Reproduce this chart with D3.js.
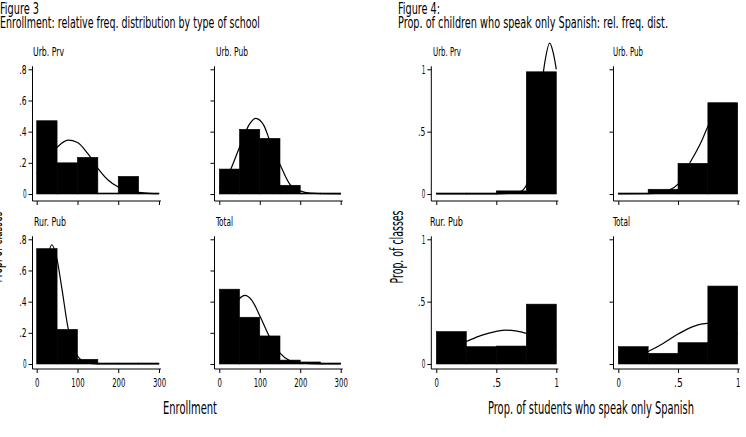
<!DOCTYPE html>
<html>
<head>
<meta charset="utf-8">
<script src="https://cdn.jsdelivr.net/npm/d3@7"></script>
<style>
  body { margin: 0; background: #fff; }
  svg text { font-family: "Liberation Sans Narrow", "Arial Narrow", "DejaVu Sans Condensed", sans-serif; fill: #000; }
</style>
</head>
<body>
<svg id="chart" width="746" height="437"></svg>
<script>
// ---- Figure 3: enrollment, bins of 50 ----
var enrollBins = [0, 50, 100, 150, 200, 250, 300];
var enrollXTicks = [0, 100, 200, 300];
var enrollYTicks = [0, 0.2, 0.4, 0.6, 0.8];
var urbPrvEnroll = [0.47, 0.20, 0.235, 0, 0.113, 0];
var urbPubEnroll = [0.16, 0.415, 0.357, 0.056, 0.006, 0.002];
var rurPubEnroll = [0.74, 0.222, 0.03, 0, 0, 0];
var totalEnroll  = [0.48, 0.30, 0.18, 0.025, 0.013, 0.002];

// overlaid normal curves
var urbPrvEnrollFit = [[0,0.13],[25,0.22],[50,0.30],[77,0.345],[100,0.33],[125,0.26],[150,0.165],[175,0.09],[200,0.045],[225,0.02],[250,0.01],[275,0.004],[300,0.002]];
var urbPubEnrollFit = [[0,0.04],[25,0.14],[50,0.30],[75,0.45],[90,0.485],[110,0.44],[125,0.34],[150,0.19],[175,0.06],[200,0.02],[225,0.005],[250,0.002],[300,0.001]];
var rurPubEnrollFit = [[2,0.28],[15,0.5],[25,0.66],[37,0.765],[50,0.67],[62,0.48],[77,0.23],[100,0.05],[125,0.006],[150,0.001],[300,0.001]];
var totalEnrollFit  = [[2,0.16],[25,0.31],[50,0.42],[63,0.44],[80,0.41],[100,0.31],[125,0.17],[150,0.07],[175,0.02],[200,0.005],[250,0.001],[300,0.001]];

// ---- Figure 4: share speaking only Spanish, bins of .25 ----
var propBins = [0, 0.25, 0.5, 0.75, 1];
var propXTicks = [0, 0.5, 1];
var propYTicks = [0, 0.5, 1];
var urbPrvSpan = [0, 0, 0.025, 0.98];
var urbPubSpan = [0.003, 0.038, 0.246, 0.732];
var rurPubSpan = [0.26, 0.139, 0.144, 0.48];
var totalSpan  = [0.139, 0.086, 0.171, 0.625];

var urbPrvSpanFit = [[0,0.001],[0.5,0.001],[0.6,0.004],[0.7,0.02],[0.75,0.07],[0.8,0.27],[0.85,0.62],[0.9,1.03],[0.945,1.21],[0.975,1.13],[1,1.0]];
var urbPubSpanFit = [[0,0.001],[0.25,0.002],[0.35,0.01],[0.42,0.03],[0.5,0.08],[0.6,0.25],[0.7,0.43],[0.754,0.55],[0.85,0.68],[0.93,0.72],[1,0.7]];
var rurPubSpanFit = [[0.01,0.09],[0.125,0.13],[0.25,0.18],[0.375,0.23],[0.5,0.262],[0.58,0.272],[0.66,0.265],[0.75,0.246],[0.875,0.2],[1,0.15]];
var totalSpanFit  = [[0.01,0.02],[0.125,0.045],[0.25,0.1],[0.375,0.165],[0.5,0.24],[0.625,0.3],[0.75,0.325],[0.875,0.3],[1,0.24]];

var svg = d3.select("#chart");

function fmtTick(d) {
    return d === 0 ? "0" : String(d).replace(/^0/, "");
}

// one small histogram panel
function drawPanel(p) {
    var g = svg.append("g");
    var x = d3.scaleLinear().domain([p.bins[0], p.bins[p.bins.length - 1]]).range(p.xRange);
    var y = d3.scaleLinear().domain([0, p.yMax]).range([p.yBase, p.yTop]);

    g.selectAll("rect").data(p.values).enter().append("rect")
        .attr("x", (d, i) => x(p.bins[i]))
        .attr("width", (d, i) => x(p.bins[i + 1]) - x(p.bins[i]))
        .attr("y", d => Math.min(y(d), p.yBase - 1))
        .attr("height", d => Math.max(p.yBase - y(d), 1))
        .attr("fill", "#000")
        .attr("stroke", "#000")
        .attr("stroke-width", 0.6);

    var line = d3.line().x(d => x(d[0])).y(d => y(d[1])).curve(d3.curveMonotoneX);
    g.append("path")
        .attr("d", line(p.fit))
        .attr("fill", "none")
        .attr("stroke", "#000")
        .attr("stroke-width", 1.2);

    // y axis
    var yAx = g.append("g")
        .attr("transform", "translate(" + p.axisX + ",0)")
        .call(d3.axisLeft(y).tickValues(p.yTicks).tickSize(4).tickPadding(2)
            .tickFormat(p.yLabels ? fmtTick : ""));
    yAx.select(".domain").remove();
    yAx.selectAll("line").attr("stroke", "#000").attr("stroke-width", 1);
    yAx.selectAll("text").attr("font-size", 12).attr("font-family", null)
        .filter(d => p.yLabels)
        .attr("textLength", d => fmtTick(d).length * 3.6)
        .attr("lengthAdjust", "spacingAndGlyphs");
    g.append("line")
        .attr("x1", p.axisX).attr("x2", p.axisX)
        .attr("y1", y(p.yMax) - 3).attr("y2", p.axisY)
        .attr("stroke", "#000").attr("stroke-width", 1);

    // x axis
    var xAx = g.append("g")
        .attr("transform", "translate(0," + p.axisY + ")")
        .call(d3.axisBottom(x).tickValues(p.xTicks).tickSize(4).tickPadding(5)
            .tickFormat(p.xLabels ? fmtTick : ""));
    xAx.select(".domain").remove();
    xAx.selectAll("line").attr("stroke", "#000").attr("stroke-width", 1);
    xAx.selectAll("text").attr("font-size", 13).attr("font-family", null)
        .filter(d => p.xLabels)
        .attr("textLength", d => fmtTick(d).length * 4.4)
        .attr("lengthAdjust", "spacingAndGlyphs");
    g.append("line")
        .attr("x1", p.axisX).attr("x2", p.xRange[1] + 2)
        .attr("y1", p.axisY).attr("y2", p.axisY)
        .attr("stroke", "#000").attr("stroke-width", 1);

    g.append("text")
        .attr("x", p.titleX).attr("y", p.titleY)
        .attr("font-size", 12)
        .attr("textLength", p.titleW).attr("lengthAdjust", "spacingAndGlyphs")
        .text(p.title);
}

var topRow = {yBase: 194, yTop: 69.3, axisY: 201, titleY: 56};
var botRow = {yBase: 364, yTop: 239.3, axisY: 369, titleY: 226};

// Figure 3 panels
drawPanel(Object.assign({title: "Urb. Prv", titleX: 33, titleW: 31, bins: enrollBins, values: urbPrvEnroll, fit: urbPrvEnrollFit,
    xRange: [36.7, 159], axisX: 32.5, yMax: 0.8, yTicks: enrollYTicks, xTicks: enrollXTicks, yLabels: true, xLabels: false}, topRow));
drawPanel(Object.assign({title: "Urb. Pub", titleX: 216, titleW: 32, bins: enrollBins, values: urbPubEnroll, fit: urbPubEnrollFit,
    xRange: [219.3, 340.7], axisX: 214.5, yMax: 0.8, yTicks: enrollYTicks, xTicks: enrollXTicks, yLabels: false, xLabels: false}, topRow));
drawPanel(Object.assign({title: "Rur. Pub", titleX: 34, titleW: 32, bins: enrollBins, values: rurPubEnroll, fit: rurPubEnrollFit,
    xRange: [36.7, 159], axisX: 32.5, yMax: 0.8, yTicks: enrollYTicks, xTicks: enrollXTicks, yLabels: true, xLabels: true}, botRow));
drawPanel(Object.assign({title: "Total", titleX: 216, titleW: 17, bins: enrollBins, values: totalEnroll, fit: totalEnrollFit,
    xRange: [219.3, 340.7], axisX: 214.5, yMax: 0.8, yTicks: enrollYTicks, xTicks: enrollXTicks, yLabels: false, xLabels: true}, botRow));

// Figure 4 panels
drawPanel(Object.assign({title: "Urb. Prv", titleX: 433, titleW: 28, bins: propBins, values: urbPrvSpan, fit: urbPrvSpanFit,
    xRange: [436.3, 556.3], axisX: 431.3, yMax: 1, yTicks: propYTicks, xTicks: propXTicks, yLabels: true, xLabels: false}, topRow));
drawPanel(Object.assign({title: "Urb. Pub", titleX: 613, titleW: 30, bins: propBins, values: urbPubSpan, fit: urbPubSpanFit,
    xRange: [618.3, 737.7], axisX: 613.5, yMax: 1, yTicks: propYTicks, xTicks: propXTicks, yLabels: false, xLabels: false}, topRow));
drawPanel(Object.assign({title: "Rur. Pub", titleX: 430, titleW: 33, bins: propBins, values: rurPubSpan, fit: rurPubSpanFit,
    xRange: [436.3, 556.3], axisX: 431.3, yMax: 1, yTicks: propYTicks, xTicks: propXTicks, yLabels: true, xLabels: true}, botRow));
drawPanel(Object.assign({title: "Total", titleX: 613, titleW: 17, bins: propBins, values: totalSpan, fit: totalSpanFit,
    xRange: [618.3, 737.7], axisX: 613.5, yMax: 1, yTicks: propYTicks, xTicks: propXTicks, yLabels: false, xLabels: true}, botRow));

// headings and axis titles
function label(txt, x, y, size, w, anchor, rotate) {
    var t = svg.append("text")
        .attr("font-size", size)
        .attr("textLength", w).attr("lengthAdjust", "spacingAndGlyphs")
        .attr("text-anchor", anchor || "start")
        .text(txt);
    if (rotate) t.attr("transform", "translate(" + x + "," + y + ") rotate(-90)");
    else t.attr("x", x).attr("y", y);
}

label("Figure 3", 0, 14, 15, 39);
label("Enrollment: relative freq. distribution by type of school", 0, 27.5, 15, 260);
label("Figure 4:", 398, 14, 15, 42);
label("Prop. of children who speak only Spanish: rel. freq. dist.", 398, 27.5, 15, 270);

label("Enrollment", 190, 414, 17, 54, "middle");
label("Prop. of students who speak only Spanish", 591, 414, 17, 206, "middle");
label("Prop. of classes", 2, 247, 17, 71, "middle", true);
label("Prop. of classes", 403, 247, 17, 73, "middle", true);
</script>
</body>
</html>
